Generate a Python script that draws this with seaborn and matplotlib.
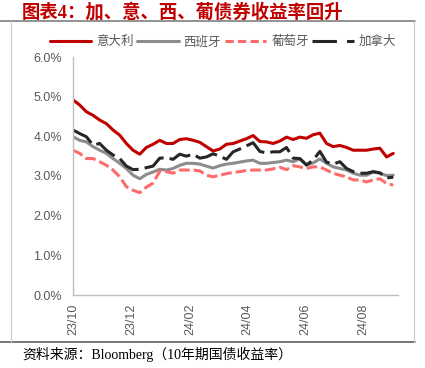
import pandas as pd
import matplotlib.pyplot as plt
import matplotlib.dates as mdates
from matplotlib.lines import Line2D
from matplotlib.ticker import FuncFormatter
import seaborn as sns

# 10年期国债收益率 (%), 周度读数
dates = pd.date_range('2023-10-01', periods=49, freq='7D')
italy = [4.92, 4.79, 4.62, 4.53, 4.41, 4.32, 4.16, 4.03, 3.82, 3.65,
         3.55, 3.72, 3.80, 3.90, 3.82, 3.82, 3.92, 3.94, 3.90, 3.85,
         3.74, 3.63, 3.68, 3.80, 3.82, 3.88, 3.94, 4.02, 3.87, 3.86,
         3.82, 3.88, 3.98, 3.92, 3.98, 3.95, 4.04, 4.08, 3.82, 3.74,
         3.77, 3.72, 3.65, 3.65, 3.65, 3.68, 3.70, 3.48, 3.57]
spain = [3.99, 3.90, 3.86, 3.74, 3.65, 3.57, 3.44, 3.32, 3.19, 3.02,
         2.93, 3.04, 3.10, 3.17, 3.15, 3.19, 3.27, 3.32, 3.32, 3.30,
         3.25, 3.20, 3.26, 3.30, 3.32, 3.35, 3.38, 3.40, 3.32, 3.32,
         3.34, 3.36, 3.40, 3.36, 3.43, 3.27, 3.33, 3.43, 3.32, 3.23,
         3.19, 3.15, 3.07, 3.02, 3.02, 3.10, 3.07, 3.01, 3.02]
portugal = [3.65, 3.57, 3.44, 3.44, 3.36, 3.27, 3.15, 2.98, 2.73, 2.64,
            2.58, 2.72, 2.82, 3.12, 3.11, 3.07, 3.15, 3.15, 3.15, 3.13,
            3.02, 2.98, 3.02, 3.06, 3.09, 3.11, 3.14, 3.15, 3.15, 3.15,
            3.18, 3.22, 3.16, 3.26, 3.23, 3.19, 3.23, 3.23, 3.15, 3.07,
            3.02, 2.98, 2.90, 2.90, 2.85, 2.90, 2.93, 2.81, 2.77]
canada = [4.16, 4.07, 3.99, 3.78, 3.82, 3.65, 3.53, 3.44, 3.25, 3.16,
          3.17, 3.21, 3.25, 3.45, 3.46, 3.42, 3.55, 3.50, 3.55, 3.45,
          3.48, 3.56, 3.50, 3.42, 3.61, 3.68, 3.76, 3.84, 3.62, 3.58,
          3.61, 3.61, 3.72, 3.45, 3.44, 3.28, 3.40, 3.62, 3.35, 3.30,
          3.36, 3.19, 3.11, 3.07, 3.07, 3.11, 3.08, 2.95, 2.97]

names = ['意大利', '西班牙', '葡萄牙', '加拿大']
colors = ['#C00000', '#8C8C8C', '#FF6B6B', '#262626']
plot_dashes = ['', '', (3.5, 1.3), (7.5, 2)]
legend_dashes = [None, None, (2.7, 1.4), (8, 3.3)]

frames = []
for name, vals in zip(names, [italy, spain, portugal, canada]):
    frames.append(pd.DataFrame({'date': dates, 'yield': vals, 'country': name}))
dados = pd.concat(frames, ignore_index=True)

sns.set_style('white')
plt.rcParams['font.family'] = ['Liberation Sans', 'Noto Sans CJK SC', 'DejaVu Sans']

fig = plt.figure(figsize=(4.25, 3.68), dpi=100)
ax = fig.add_axes([73 / 425, 1 - 295 / 368, 325 / 425, 238 / 368])

sns.lineplot(data=dados, x='date', y='yield', hue='country', style='country',
             palette=dict(zip(names, colors)), dashes=dict(zip(names, plot_dashes)),
             linewidth=2.2, legend=False, ax=ax)

ax.set_ylim(0, 6)
ax.set_yticks([0, 1, 2, 3, 4, 5, 6])
ax.yaxis.set_major_formatter(FuncFormatter(lambda v, p: f'{v:.1f}%'))
ax.set_xlim(pd.Timestamp('2023-10-01'), pd.Timestamp('2024-09-06'))
ax.set_xticks(pd.to_datetime(['2023-10-01', '2023-12-01', '2024-02-01',
                              '2024-04-01', '2024-06-01', '2024-08-01']))
ax.xaxis.set_major_formatter(mdates.DateFormatter('%y/%m'))
ax.set_xlabel('')
ax.set_ylabel('')

for s in ['top', 'right']:
    ax.spines[s].set_visible(False)
for s in ['left', 'bottom']:
    ax.spines[s].set_color('#BFBFBF')
    ax.spines[s].set_linewidth(1)
ax.tick_params(axis='both', direction='in', length=3, color='#BFBFBF',
               labelcolor='#595959', labelsize=9)
ax.tick_params(axis='y', pad=8)
ax.tick_params(axis='x', pad=6, labelrotation=90)

# legenda manual
handles = []
for c, d in zip(colors, legend_dashes):
    h = Line2D([0], [0], color=c, linewidth=2.2)
    if d is not None:
        h.set_dashes(d)
    handles.append(h)
leg = fig.legend(handles, names, loc='center', bbox_to_anchor=(223 / 425, 1 - 42 / 368),
                 ncol=4, frameon=False, fontsize=9, handlelength=3.3,
                 handletextpad=0.4, columnspacing=0.3)
for t in leg.get_texts():
    t.set_color('#595959')

# moldura
fig.add_artist(Line2D([0, 415 / 425], [1 - 21 / 368] * 2, color='#7F7F7F', lw=1.2))
fig.add_artist(Line2D([0, 415 / 425], [1 - 342 / 368] * 2, color='#606060', lw=1.2))
fig.add_artist(Line2D([11 / 425] * 2, [1 - 342 / 368, 1 - 21 / 368], color='#C8C8C8', lw=0.8))
fig.add_artist(Line2D([414 / 425] * 2, [1 - 342 / 368, 1 - 21 / 368], color='#C8C8C8', lw=0.8))

fig.text(22 / 425, 1 - 12 / 368, '图表4：加、意、西、葡债券收益率回升', fontsize=13.2,
         color='#C00000', fontweight='bold', va='center', ha='left',
         family=['Liberation Serif', 'Noto Sans CJK SC'])
fig.text(22 / 425, 1 - 354 / 368, '资料来源：Bloomberg（10年期国债收益率）', fontsize=10,
         color='black', va='center', ha='left',
         family=['Liberation Serif', 'Noto Sans CJK SC'])

fig.savefig('out.png', dpi=100)
